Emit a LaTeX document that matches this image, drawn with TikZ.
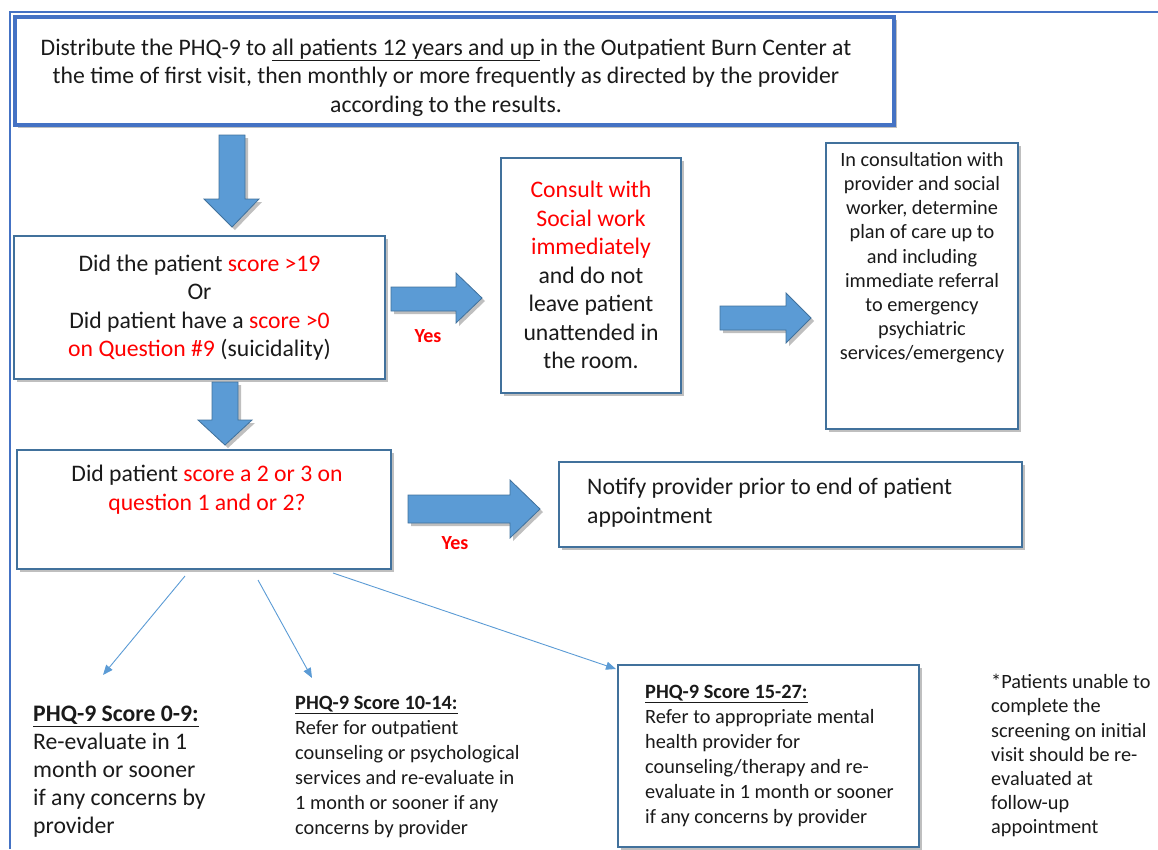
\documentclass[tikz,border=0pt]{standalone}
\usepackage{fontspec}
\setmainfont{Carlito}
\usetikzlibrary{shadows,arrows.meta}
\definecolor{boxblue}{HTML}{41719C}
\definecolor{topblue}{HTML}{4472C4}
\definecolor{arrowfill}{HTML}{5B9BD5}
\definecolor{txt}{HTML}{1A1A1A}
\definecolor{myred}{HTML}{FF0000}
\newcommand{\rd}[1]{\textcolor{myred}{#1}}
\begin{document}
\begin{tikzpicture}[x=1pt,y=-1pt,
  every node/.style={text=txt},
  shad/.style={drop shadow={shadow xshift=3pt,shadow yshift=-3pt,opacity=0.25,fill=black}},
  box/.style={draw=boxblue,line width=2pt,fill=white,shad,inner sep=0pt},
  topbox/.style={draw=topblue,line width=4pt,fill=white,shad,inner sep=0pt},
  blockarrow/.style={fill=arrowfill,draw=boxblue,line width=0.8pt,shad},
  thin/.style={draw=arrowfill,line width=0.9pt,-{Triangle[length=10pt,width=8pt]}},
  big/.style={font=\fontsize{23.7}{28.5}\selectfont},
  bigb/.style={font=\fontsize{23.7}{28}\selectfont},
  mid/.style={font=\fontsize{20.3}{25}\selectfont},
  sml/.style={font=\fontsize{20.3}{24.2}\selectfont},
  yes/.style={font=\fontsize{20}{22}\selectfont\bfseries,text=myred}
]
\useasboundingbox (0,0) rectangle (1158,849);
% outer page frame
\draw[topblue,line width=1.5pt] (10,849) -- (10,12) -- (1158,12);

% top box
\node[topbox,minimum width=879pt,minimum height=108.5pt] (top) at (454.5,70.75) {};
\node[big,align=center,inner sep=0pt,anchor=north] (t1) at (446,38.5)
 {Distribute the PHQ-9 to \underline{all patients 12 years and up }in the Outpatient Burn Center at\\
  the time of first visit, then monthly or more frequently as directed by the provider\\
  according to the results.};

% decision 1
\node[box,big,minimum width=371pt,minimum height=143pt,align=center] (b2) at (199.5,307.5)
 {Did the patient \rd{score >19}\\Or\\Did patient have a \rd{score >0}\\\rd{on Question \#9} (suicidality)};

% consult box
\node[box,big,minimum width=180pt,minimum height=235pt,align=center] (b3) at (591,275)
 {\rd{Consult with}\\\rd{Social work}\\\rd{immediately}\\and do not\\leave patient\\unattended in\\the room.};

% consultation box
\node[box,minimum width=192pt,minimum height=286pt] (b4) at (922,286) {};
\node[sml,align=center,inner sep=0pt,anchor=north] (t4) at (922,152)
 {In consultation with\\provider and social\\worker, determine\\plan of care up to\\and including\\immediate referral\\to emergency\\psychiatric\\services/emergency};

% decision 2
\node[box,minimum width=374pt,minimum height=119pt] (b5) at (204,509.5) {};
\node[big,align=center,inner sep=0pt,anchor=north] (t5) at (207,465)
 {Did patient \rd{score a 2 or 3 on}\\\rd{question 1 and or 2?}};

% notify box
\node[box,minimum width=463pt,minimum height=85pt] (b6) at (790.5,504.5) {};
\node[big,align=left,inner sep=0pt,anchor=north west] (t6) at (587,478)
 {Notify provider prior to end of patient\\appointment};

% score 15-27 box
\node[box,minimum width=301pt,minimum height=182pt] (b9) at (768.5,756) {};
\node[mid,align=left,inner sep=0pt,anchor=north west] (t9) at (645,685)
 {\textbf{\underline{PHQ-9 Score 15-27:}}\\Refer to appropriate mental\\health provider for\\counseling/therapy and re-\\evaluate in 1 month or sooner\\if any concerns by provider};

% score 0-9
\node[bigb,align=left,inner sep=0pt,anchor=north west] (t7) at (33,706)
 {\textbf{\underline{PHQ-9 Score 0-9:}}\\Re-evaluate in 1\\month or sooner\\if any concerns by\\provider};

% score 10-14
\node[mid,align=left,inner sep=0pt,anchor=north west] (t8) at (295,696)
 {\textbf{\underline{PHQ-9 Score 10-14:}}\\Refer for outpatient\\counseling or psychological\\services and re-evaluate in\\1 month or sooner if any\\concerns by provider};

% note
\node[sml,align=left,inner sep=0pt,anchor=north west] (note) at (991,674)
 {*Patients unable to\\complete the\\screening on initial\\visit should be re-\\evaluated at\\follow-up\\appointment};

% block arrows
\filldraw[blockarrow] (219,135) -- (245,135) -- (245,199) -- (259,199) -- (232,227) -- (204,199) -- (219,199) -- cycle;
\filldraw[blockarrow] (212,382) -- (238,382) -- (238,420) -- (252,420) -- (225,445) -- (198,420) -- (212,420) -- cycle;
\filldraw[blockarrow] (391,287) -- (456,287) -- (456,273) -- (482,298) -- (456,323) -- (456,311) -- (391,311) -- cycle;
\filldraw[blockarrow] (720,306) -- (786,306) -- (786,293) -- (811,318) -- (786,343) -- (786,330) -- (720,330) -- cycle;
\filldraw[blockarrow] (408,495) -- (510,495) -- (510,480) -- (540,509) -- (510,538) -- (510,523) -- (408,523) -- cycle;

\node[yes] (yes1) at (428,336) {Yes};
\node[yes] (yes2) at (455,543) {Yes};

% thin arrows
\coordinate (s1) at (185,576);
\coordinate (e1) at (103,675);
\coordinate (s2) at (258,580);
\coordinate (e2) at (312,678);
\coordinate (s3) at (333,573);
\coordinate (e3) at (616,669);
\draw[thin] (s1) -- (e1);
\draw[thin] (s2) -- (e2);
\draw[thin] (s3) -- (e3);
\end{tikzpicture}
\end{document}
